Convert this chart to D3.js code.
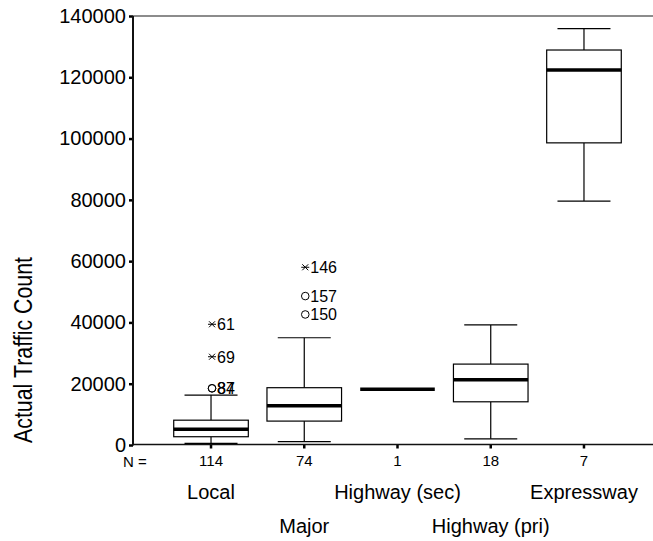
<!DOCTYPE html>
<html>
    <head>
        <meta charset="utf-8">
        <title>Traffic count boxplot</title>
        <script src="https://d3js.org/d3.v7.min.js"></script>
        <style>
            body { margin: 0; background: #fff; }
            text { font-family: "Liberation Sans", Arial, sans-serif; fill: #000; }
        </style>
    </head>
    <body>
        <div id="box_viz"></div>
        <script>
            // road types and their box statistics
            var categories = ["Local", "Major", "Highway (sec)", "Highway (pri)", "Expressway"]
            var counts = [114, 74, 1, 18, 7]
            var lowWhisker = [500, 1100, 18200, 2000, 79600]
            var q1 = [2700, 7800, 18200, 14100, 98600]
            var medians = [5100, 12800, 18200, 21300, 122400]
            var q3 = [8100, 18700, 18200, 26400, 128900]
            var highWhisker = [16300, 35000, 18200, 39200, 135900]

            // outliers (o) and extremes (*)
            var outlierCats = ["Local", "Local", "Local", "Local", "Major", "Major", "Major"]
            var outlierValues = [18500, 18500, 28800, 39400, 42600, 48600, 58000]
            var outlierIds = ["87", "84", "69", "61", "150", "157", "146"]
            var outlierKinds = ["o", "o", "*", "*", "o", "o", "*"]

            var yTicks = [0, 20000, 40000, 60000, 80000, 100000, 120000, 140000]

            var width = 653, height = 541

            var svg = d3.select("#box_viz")
                .append("svg")
                    .attr("width", width)
                    .attr("height", height)

            var y = d3.scaleLinear()
                .domain([0, 140000])
                .range([445, 16])

            var x = d3.scaleBand()
                .domain(categories)
                .range([164.4, 630.6])

            var boxW = x.step() * 0.8
            var capW = 53
            var cx = function(c) { return x(c) + x.bandwidth() / 2 }

            // frame: grey top line, black axes
            svg.append("line")
                .attr("x1", 133).attr("x2", width)
                .attr("y1", 16).attr("y2", 16)
                .style("stroke", "#666").style("stroke-width", 1.5)

            var yAxis = svg.append("g")
                .attr("transform", "translate(133,0)")
                .call(d3.axisLeft(y).tickValues(yTicks).tickSize(4).tickPadding(3).tickFormat(d3.format("d")))
            yAxis.select(".domain").remove()
            yAxis.selectAll(".tick line").style("stroke-width", 2.5)
            yAxis.selectAll(".tick text").style("font-size", "20px").attr("font-family", null)
            svg.append("line")
                .attr("x1", 133).attr("x2", 133)
                .attr("y1", 16).attr("y2", 445.5)
                .style("stroke", "#111").style("stroke-width", 2)

            var xAxis = svg.append("g")
                .attr("transform", "translate(0,444.5)")
                .call(d3.axisBottom(x).tickSize(4).tickFormat(function(d, i) { return counts[i] }).tickPadding(7))
            xAxis.select(".domain").remove()
            xAxis.selectAll(".tick line").style("stroke-width", 2.5)
            xAxis.selectAll(".tick text").style("font-size", "15px").attr("font-family", null)
            svg.append("line")
                .attr("x1", 132).attr("x2", width)
                .attr("y1", 444.5).attr("y2", 444.5)
                .style("stroke", "#111").style("stroke-width", 1.3)

            svg.append("text")
                .attr("x", 123)
                .attr("y", 466.5)
                .style("font-size", "15px")
                .text("N =")

            // category names on two staggered rows
            svg.selectAll(".catlabel")
                .data(categories)
                .enter().append("text")
                    .attr("x", function(d) { return cx(d) })
                    .attr("y", function(d, i) { return i % 2 == 0 ? 499 : 533 })
                    .style("text-anchor", "middle")
                    .style("font-size", "20px")
                    .text(function(d) { return d })

            // y axis title
            svg.append("text")
                .attr("transform", "translate(32,443) rotate(-90)")
                .attr("textLength", 186)
                .attr("lengthAdjust", "spacingAndGlyphs")
                .style("font-size", "25px")
                .text("Actual Traffic Count")

            // boxes
            var boxes = svg.selectAll(".box")
                .data(categories)
                .enter().append("g")

            boxes.each(function(c, i) {
                var g = d3.select(this), m = cx(c)
                if (counts[i] > 1) {
                    g.append("line")
                        .attr("x1", m).attr("x2", m)
                        .attr("y1", y(highWhisker[i])).attr("y2", y(q3[i]))
                        .style("stroke", "#000").style("stroke-width", 1.2)
                    g.append("line")
                        .attr("x1", m).attr("x2", m)
                        .attr("y1", y(q1[i])).attr("y2", y(lowWhisker[i]))
                        .style("stroke", "#000").style("stroke-width", 1.2)
                    g.selectAll(".cap")
                        .data([lowWhisker[i], highWhisker[i]])
                        .enter().append("line")
                            .attr("x1", m - capW / 2).attr("x2", m + capW / 2)
                            .attr("y1", function(v) { return y(v) })
                            .attr("y2", function(v) { return y(v) })
                            .style("stroke", "#000").style("stroke-width", 1.2)
                    g.append("rect")
                        .attr("x", m - boxW / 2)
                        .attr("y", y(q3[i]))
                        .attr("width", boxW)
                        .attr("height", y(q1[i]) - y(q3[i]))
                        .style("fill", "#fff")
                        .style("stroke", "#000").style("stroke-width", 1.2)
                }
                g.append("line")
                    .attr("x1", m - boxW / 2).attr("x2", m + boxW / 2)
                    .attr("y1", y(medians[i])).attr("y2", y(medians[i]))
                    .style("stroke", "#000").style("stroke-width", 3.5)
            })

            // outliers
            var star = "M-4,0H4M-3,-3L3,3M-3,3L3,-3"
            outlierValues.forEach(function(v, i) {
                var m = cx(outlierCats[i]) + 1, py = y(v)
                if (outlierKinds[i] == "o") {
                    svg.append("circle")
                        .attr("cx", m).attr("cy", py).attr("r", 3.8)
                        .style("fill", "none").style("stroke", "#000").style("stroke-width", 1)
                } else {
                    svg.append("path")
                        .attr("d", star)
                        .attr("transform", "translate(" + m + "," + py + ")")
                        .style("fill", "none").style("stroke", "#000").style("stroke-width", 1)
                }
                svg.append("text")
                    .attr("x", m + 5)
                    .attr("y", py)
                    .attr("dy", "0.36em")
                    .style("font-size", "16px")
                    .text(outlierIds[i])
            })
        </script>
    </body>
</html>
